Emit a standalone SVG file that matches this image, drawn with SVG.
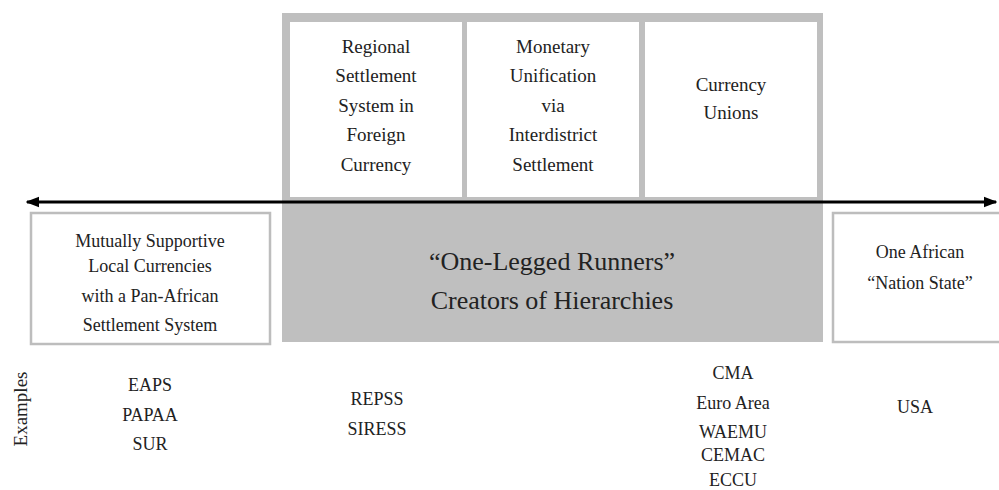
<svg xmlns="http://www.w3.org/2000/svg" width="999" height="490" viewBox="0 0 999 490" font-family="Liberation Serif, serif">
<defs>
<marker id="ah" viewBox="0 0 10 10" refX="9" refY="5" markerWidth="4.5" markerHeight="4.5" orient="auto-start-reverse" markerUnits="strokeWidth">
<path d="M0,1 L10,5 L0,9 Z" fill="#000"/>
</marker>
</defs>
<rect width="999" height="490" fill="#fff"/>
<g id="frame">
<rect x="282" y="13" width="541" height="190" fill="#bfbfbf"/>
</g>
<g id="regional">
<rect x="290" y="22" width="172" height="175" fill="#fff"/>
<text x="376" y="53" font-family="Liberation Serif, serif" font-size="19" text-anchor="middle" fill="#222">Regional</text>
<text x="376" y="82" font-family="Liberation Serif, serif" font-size="19" text-anchor="middle" fill="#222">Settlement</text>
<text x="376" y="112" font-family="Liberation Serif, serif" font-size="19" text-anchor="middle" fill="#222">System in</text>
<text x="376" y="141" font-family="Liberation Serif, serif" font-size="19" text-anchor="middle" fill="#222">Foreign</text>
<text x="376" y="171" font-family="Liberation Serif, serif" font-size="19" text-anchor="middle" fill="#222">Currency</text>
</g>
<g id="monetary">
<rect x="467" y="22" width="172" height="175" fill="#fff"/>
<text x="553" y="53" font-family="Liberation Serif, serif" font-size="19" text-anchor="middle" fill="#222">Monetary</text>
<text x="553" y="82" font-family="Liberation Serif, serif" font-size="19" text-anchor="middle" fill="#222">Unification</text>
<text x="553" y="112" font-family="Liberation Serif, serif" font-size="19" text-anchor="middle" fill="#222">via</text>
<text x="553" y="141" font-family="Liberation Serif, serif" font-size="19" text-anchor="middle" fill="#222">Interdistrict</text>
<text x="553" y="171" font-family="Liberation Serif, serif" font-size="19" text-anchor="middle" fill="#222">Settlement</text>
</g>
<g id="unions">
<rect x="645" y="22" width="172" height="175" fill="#fff"/>
<text x="731" y="91" font-family="Liberation Serif, serif" font-size="19" text-anchor="middle" fill="#222">Currency</text>
<text x="731" y="119" font-family="Liberation Serif, serif" font-size="19" text-anchor="middle" fill="#222">Unions</text>
</g>
<g id="runners">
<rect x="282" y="203" width="541" height="139" fill="#bfbfbf"/>
<text x="552" y="270" font-family="Liberation Serif, serif" font-size="26" text-anchor="middle" fill="#222">“One-Legged Runners”</text>
<text x="552" y="309" font-family="Liberation Serif, serif" font-size="26" text-anchor="middle" fill="#222">Creators of Hierarchies</text>
</g>
<g id="local">
<rect x="31" y="213" width="239" height="131" fill="#fff" stroke="#bdbdbd" stroke-width="2.5"/>
<text x="150" y="247" font-family="Liberation Serif, serif" font-size="18" text-anchor="middle" fill="#222">Mutually Supportive</text>
<text x="150" y="272" font-family="Liberation Serif, serif" font-size="18" text-anchor="middle" fill="#222">Local Currencies</text>
<text x="150" y="302" font-family="Liberation Serif, serif" font-size="18" text-anchor="middle" fill="#222">with a Pan-African</text>
<text x="150" y="331" font-family="Liberation Serif, serif" font-size="18" text-anchor="middle" fill="#222">Settlement System</text>
</g>
<g id="nation">
<rect x="833" y="213" width="170" height="129" fill="#fff" stroke="#bdbdbd" stroke-width="2.5"/>
<text x="920" y="258" font-family="Liberation Serif, serif" font-size="18" text-anchor="middle" fill="#222">One African</text>
<text x="920" y="289" font-family="Liberation Serif, serif" font-size="18" text-anchor="middle" fill="#222">“Nation State”</text>
</g>
<g id="connectors">
<line x1="27" y1="202" x2="996" y2="202" stroke="#000" stroke-width="3" marker-start="url(#ah)" marker-end="url(#ah)"/>
</g>
<g id="examples">
<text transform="translate(27,409) rotate(-90)" font-family="Liberation Serif, serif" font-size="19" text-anchor="middle" fill="#222">Examples</text>
<text x="150" y="391" font-family="Liberation Serif, serif" font-size="18" text-anchor="middle" fill="#222">EAPS</text>
<text x="150" y="421" font-family="Liberation Serif, serif" font-size="18" text-anchor="middle" fill="#222">PAPAA</text>
<text x="150" y="450" font-family="Liberation Serif, serif" font-size="18" text-anchor="middle" fill="#222">SUR</text>
<text x="377" y="405" font-family="Liberation Serif, serif" font-size="18" text-anchor="middle" fill="#222">REPSS</text>
<text x="377" y="435" font-family="Liberation Serif, serif" font-size="18" text-anchor="middle" fill="#222">SIRESS</text>
<text x="733" y="379" font-family="Liberation Serif, serif" font-size="18" text-anchor="middle" fill="#222">CMA</text>
<text x="733" y="409" font-family="Liberation Serif, serif" font-size="18" text-anchor="middle" fill="#222">Euro Area</text>
<text x="733" y="438" font-family="Liberation Serif, serif" font-size="18" text-anchor="middle" fill="#222">WAEMU</text>
<text x="733" y="461" font-family="Liberation Serif, serif" font-size="18" text-anchor="middle" fill="#222">CEMAC</text>
<text x="733" y="486" font-family="Liberation Serif, serif" font-size="18" text-anchor="middle" fill="#222">ECCU</text>
<text x="915" y="413" font-family="Liberation Serif, serif" font-size="18" text-anchor="middle" fill="#222">USA</text>
</g>
</svg>
